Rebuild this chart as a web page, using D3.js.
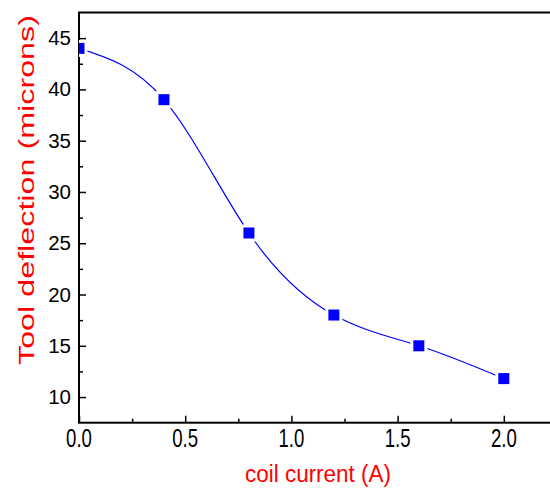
<!DOCTYPE html>
<html>
<head>
<meta charset="utf-8">
<script src="https://cdn.jsdelivr.net/npm/d3@7"></script>
<style>
  html, body { margin: 0; padding: 0; background: #fff; }
  svg { display: block; }
</style>
</head>
<body>
<div id="chart"></div>
<script>
// ---- data ----
const coilCurrent = [0.0, 0.4, 0.8, 1.2, 1.6, 2.0];
const deflection = [44.0, 39.0, 26.0, 18.0, 15.0, 11.8];
const xMajorTicks = [0.0, 0.5, 1.0, 1.5, 2.0];
const xMinorTicks = [0.25, 0.75, 1.25, 1.75];
const yMajorTicks = [10, 15, 20, 25, 30, 35, 40, 45];
const yMinorTicks = [12.5, 17.5, 22.5, 27.5, 32.5, 37.5, 42.5];
const xTitle = "coil current (A)";
const yTitle = "Tool deflection (microns)";

const W = 550, H = 488;
const svg = d3.select("#chart").append("svg").attr("width", W).attr("height", H);

const x = d3.scaleLinear().domain([0, 2.25]).range([79, 556.9]);
const y = d3.scaleLinear().domain([7.5, 47.5]).range([422.7, 12.5]);

const pts = coilCurrent.map((c, i) => [c, deflection[i]]);

// clip to plot area
svg.append("defs").append("clipPath").attr("id", "plotclip")
  .append("rect").attr("x", x(0)).attr("y", y(47.5))
  .attr("width", x(2.25) - x(0)).attr("height", y(7.5) - y(47.5));

const plot = svg.append("g").attr("clip-path", "url(#plotclip)");

const line = d3.line().x(d => x(d[0])).y(d => y(d[1])).curve(d3.curveNatural);
plot.append("path").datum(pts).attr("d", line)
  .attr("fill", "none").attr("stroke", "#0000ff").attr("stroke-width", 1.2);

// white gaps around markers
const gap = 17;
plot.selectAll("rect.gap").data(pts).enter().append("rect")
  .attr("class", "gap")
  .attr("x", d => x(d[0]) - gap / 2).attr("y", d => y(d[1]) - gap / 2)
  .attr("width", gap).attr("height", gap).attr("fill", "#fff");

// axes
function styleAxis(g) {
  g.select(".domain").remove();
  g.selectAll("line").attr("stroke", "#000").attr("stroke-width", 1.5);
  g.selectAll("text").remove();
}
svg.append("g").attr("transform", `translate(0,${y(7.5)})`)
  .call(d3.axisBottom(x).tickValues(xMajorTicks).tickSize(-7)).call(styleAxis);
svg.append("g").attr("transform", `translate(0,${y(7.5)})`)
  .call(d3.axisBottom(x).tickValues(xMinorTicks).tickSize(-4)).call(styleAxis);
svg.append("g").attr("transform", `translate(${x(0)},0)`)
  .call(d3.axisLeft(y).tickValues(yMajorTicks).tickSize(-7)).call(styleAxis);
svg.append("g").attr("transform", `translate(${x(0)},0)`)
  .call(d3.axisLeft(y).tickValues(yMinorTicks).tickSize(-4)).call(styleAxis);

// frame
svg.append("rect").attr("x", x(0)).attr("y", y(47.5))
  .attr("width", x(2.25) - x(0)).attr("height", y(7.5) - y(47.5))
  .attr("fill", "none").attr("stroke", "#000").attr("stroke-width", 2);

// markers
const ms = 11;
plot.selectAll("rect.mk").data(pts).enter().append("rect")
  .attr("class", "mk")
  .attr("x", d => x(d[0]) - ms / 2).attr("y", d => y(d[1]) - ms / 2)
  .attr("width", ms).attr("height", ms).attr("fill", "#0000ff");
plot.raise();

// tick labels
svg.append("g").selectAll("text").data(xMajorTicks).enter().append("text")
  .attr("transform", d => `translate(${x(d)},446.5) scale(0.93,1.33)`)
  .attr("text-anchor", "middle")
  .attr("font-family", "Liberation Sans, Arial, sans-serif")
  .attr("font-size", 20).attr("fill", "#000")
  .text(d => d.toFixed(1));

svg.append("g").selectAll("text").data(yMajorTicks).enter().append("text")
  .attr("x", 71).attr("y", d => y(d) + 7)
  .attr("text-anchor", "end")
  .attr("font-family", "Liberation Sans, Arial, sans-serif")
  .attr("font-size", 20.5).attr("fill", "#000")
  .text(d => d);

// titles
svg.append("text")
  .attr("x", 318).attr("y", 482)
  .attr("text-anchor", "middle")
  .attr("font-family", "Liberation Sans, Arial, sans-serif")
  .attr("font-size", 23).attr("fill", "#ff0000")
  .attr("textLength", 146).attr("lengthAdjust", "spacingAndGlyphs")
  .text(xTitle);

svg.append("text")
  .attr("transform", "translate(33.5,190) rotate(-90)")
  .attr("text-anchor", "middle")
  .attr("font-family", "Liberation Sans, Arial, sans-serif")
  .attr("font-size", 22).attr("fill", "#ff0000")
  .attr("textLength", 350).attr("lengthAdjust", "spacingAndGlyphs")
  .text(yTitle);
</script>
</body>
</html>
